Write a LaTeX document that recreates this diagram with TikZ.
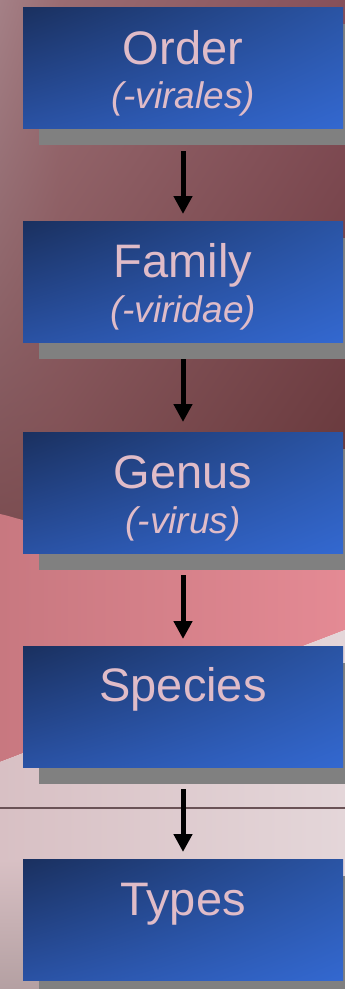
\documentclass[tikz,border=0pt]{standalone}
\usepackage{fontspec}
\setmainfont{Liberation Sans}
\usetikzlibrary{arrows.meta,shadings}
\definecolor{bgA}{HTML}{A48086}
\definecolor{bgB}{HTML}{9A6C72}
\definecolor{bgC}{HTML}{86505A}
\definecolor{bgD}{HTML}{7A4C50}
\definecolor{bgE}{HTML}{7C4C50}
\definecolor{bgF}{HTML}{643638}
\definecolor{pinkL}{HTML}{C87880}
\definecolor{pinkR}{HTML}{E48A94}
\definecolor{whL}{HTML}{D8C0C4}
\definecolor{whR}{HTML}{E4D6D9}
\definecolor{grayL}{HTML}{B4A0A2}
\definecolor{lineC}{HTML}{6A5256}
\definecolor{boxUL}{HTML}{1A305F}
\definecolor{boxUR}{HTML}{2A54A4}
\definecolor{boxLL}{HTML}{2A52A4}
\definecolor{boxLR}{HTML}{3368D0}
\definecolor{shadowC}{HTML}{808080}
\definecolor{txtC}{HTML}{E0BCC8}
\tikzset{
  rankbox/.style={minimum width=320pt, minimum height=121pt, inner sep=0pt, outer sep=0pt,
    upper left=boxUL, upper right=boxUR, lower left=boxLL, lower right=boxLR},
  shadowbox/.style={minimum width=320pt, minimum height=121pt, inner sep=0pt, outer sep=0pt, fill=shadowC},
  maintxt/.style={text=txtC, font=\fontsize{47}{56}\selectfont, inner sep=0pt, anchor=base},
  subtxt/.style={text=txtC, font=\fontsize{37}{44}\selectfont\itshape, inner sep=0pt, anchor=base},
  arr/.style={line width=5pt, -{Triangle[width=18pt,length=18pt]}, black}
}
\begin{document}
\begin{tikzpicture}[x=1pt,y=-1pt]
\useasboundingbox (0,0) rectangle (345,989);
% background
\path[upper left=bgA, upper right=bgB, lower left=bgD, lower right=bgE] (0,0) rectangle (60,540);
\path[upper left=bgB, upper right=bgC, lower left=bgE, lower right=bgF] (60,0) rectangle (345,540);
\shade[left color=pinkL, right color=pinkR] (0,514) .. controls (10,516) and (20,520) .. (40,524) -- (345,556) -- (345,630) -- (0,762) -- cycle;
\shade[left color=whL, right color=whR] (0,762) -- (345,630) -- (345,989) -- (0,989) -- cycle;
\shade[top color=whL, bottom color=grayL] (0,860) rectangle (40,989);
\draw[line width=2.5pt, lineC] (0,808) -- (345,808);
% shadows
\node[shadowbox] (sh1) at (199,84.5) {};
\node[shadowbox] (sh2) at (199,298.5) {};
\node[shadowbox] (sh3) at (199,509.5) {};
\node[shadowbox] (sh4) at (199,723.5) {};
\node[shadowbox] (sh5) at (199,936.5) {};
% boxes
\node[rankbox] (b1) at (183,67.5) {};
\node[rankbox] (b2) at (183,281.5) {};
\node[rankbox] (b3) at (183,492.5) {};
\node[rankbox] (b4) at (183,706.5) {};
\node[rankbox] (b5) at (183,919.5) {};
% texts
\node[maintxt] (t1) at ([yshift=-57pt]b1.north) {Order};
\node[subtxt] (u1) at ([yshift=-101pt]b1.north) {(-virales)};
\node[maintxt] (t2) at ([yshift=-56pt]b2.north) {Family};
\node[subtxt] (u2) at ([yshift=-101pt]b2.north) {(-viridae)};
\node[maintxt] (t3) at ([yshift=-56pt]b3.north) {Genus};
\node[subtxt] (u3) at ([yshift=-101pt]b3.north) {(-virus)};
\node[maintxt] (t4) at ([yshift=-55pt]b4.north) {Species};
\node[maintxt] (t5) at ([yshift=-56pt]b5.north) {Types};
% arrows
\draw[arr] ([yshift=-23pt]b1.south) -- ([yshift=7pt]b2.north);
\draw[arr] ([yshift=-17pt]b2.south) -- ([yshift=10pt]b3.north);
\draw[arr] ([yshift=-22pt]b3.south) -- ([yshift=7pt]b4.north);
\draw[arr] ([yshift=-22pt]b4.south) -- ([yshift=7pt]b5.north);
\end{tikzpicture}
\end{document}
